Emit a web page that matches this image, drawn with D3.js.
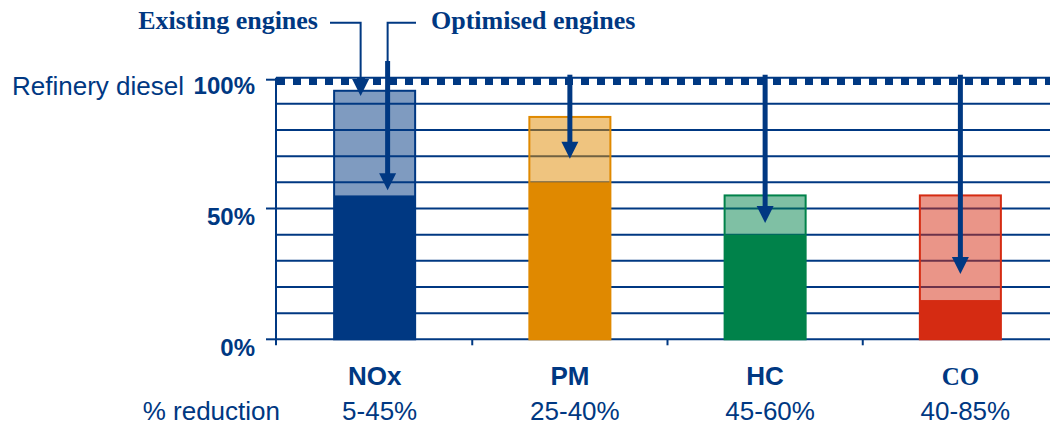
<!DOCTYPE html>
<html>
<head>
<meta charset="utf-8">
<script src="https://cdn.jsdelivr.net/npm/d3@7"></script>
<style>
  body { margin: 0; background: #fff; }
  svg { display: block; }
</style>
</head>
<body>
<svg id="chart" width="1050" height="425"></svg>
<script>
// Emissions relative to refinery diesel (=100%)
const categories = ["NOx", "PM", "HC", "CO"];
const existingEngines = [95, 85, 55, 55];   // level with existing engines
const optimisedEngines = [55, 60, 40, 15];  // level with optimised engines
const reductionLabels = ["5-45%", "25-40%", "45-60%", "40-85%"];
const arrowTips = [57, 69, 44.5, 25];       // where each downward arrow points
const existingArrowTip = 93;                // arrow from the "Existing engines" callout
const yTickValues = [0, 50, 100];
const gridValues = [10, 20, 30, 40, 50, 60, 70, 80, 90];
const colours = ["#003882", "#e08900", "#00824a", "#d52b12"];

const NAVY = "#003882";
const SANS = "'Liberation Sans', Arial, sans-serif";
const SERIF = "'Liberation Serif', 'Times New Roman', serif";

const svg = d3.select("#chart");

const x = d3.scaleBand().domain(categories).range([277, 1058]).padding(0);
const y = d3.scaleLinear().domain([0, 100]).range([339.3, 77.7]);
const barW = x.bandwidth() * 0.415;
const cx = d => x(d) + x.bandwidth() / 2;

// horizontal grid
svg.append("g").selectAll("line").data(gridValues.concat([0, 100])).join("line")
  .attr("x1", x.range()[0] - 1).attr("x2", 1050)
  .attr("y1", d => y(d)).attr("y2", d => y(d))
  .attr("stroke", NAVY).attr("stroke-width", 2);

// the 100% reference line: a row of squares hanging under the line
svg.append("line")
  .attr("x1", x.range()[0]).attr("x2", 1050)
  .attr("y1", y(100) + 3.8).attr("y2", y(100) + 3.8)
  .attr("stroke", NAVY).attr("stroke-width", 7)
  .attr("stroke-dasharray", "8,8");

// bars: existing engines (translucent) and optimised engines (solid)
const bars = svg.append("g");
categories.forEach((c, i) => {
  bars.append("rect")
    .attr("x", cx(c) - barW / 2).attr("width", barW)
    .attr("y", y(existingEngines[i])).attr("height", y(0) - y(existingEngines[i]))
    .attr("fill", colours[i]).attr("fill-opacity", 0.5)
    .attr("stroke", colours[i]).attr("stroke-width", 2);
  bars.append("rect")
    .attr("x", cx(c) - barW / 2).attr("width", barW)
    .attr("y", y(optimisedEngines[i])).attr("height", y(0) - y(optimisedEngines[i]))
    .attr("fill", colours[i]);
});

// axes
const axes = svg.append("g").attr("stroke", NAVY).attr("stroke-width", 2);
axes.append("line")
  .attr("x1", x.range()[0] - 1).attr("x2", x.range()[0] - 1)
  .attr("y1", y(100)).attr("y2", y(0) + 6);
axes.selectAll(".ytick").data(yTickValues).join("line")
  .attr("x1", x.range()[0] - 11).attr("x2", x.range()[0] - 1)
  .attr("y1", d => y(d) + (d === 100 ? 2 : 0)).attr("y2", d => y(d) + (d === 100 ? 2 : 0));
axes.selectAll(".xtick").data(d3.range(1, categories.length)).join("line")
  .attr("x1", i => x.range()[0] + i * x.step()).attr("x2", i => x.range()[0] + i * x.step())
  .attr("y1", y(0)).attr("y2", y(0) + 6);

// y labels
svg.append("g").selectAll("text").data(yTickValues).join("text")
  .attr("x", 255).attr("y", d => y(d) + 16.5)
  .attr("text-anchor", "end")
  .attr("font-family", SANS).attr("font-size", 24).attr("font-weight", "bold")
  .attr("fill", NAVY)
  .text(d => d + "%");

svg.append("text")
  .attr("x", 12).attr("y", y(100) + 17)
  .attr("font-family", SANS).attr("font-size", 26)
  .attr("fill", NAVY)
  .text("Refinery diesel");

// category labels and reduction ranges
svg.append("g").selectAll("text").data(categories).join("text")
  .attr("x", d => cx(d)).attr("y", 385)
  .attr("text-anchor", "middle")
  .attr("font-family", d => d === "CO" ? SERIF : SANS)
  .attr("font-size", d => d === "CO" ? 25 : 26)
  .attr("font-weight", "bold")
  .attr("fill", NAVY)
  .text(d => d);

svg.append("text")
  .attr("x", 280).attr("y", 420)
  .attr("text-anchor", "end")
  .attr("font-family", SANS).attr("font-size", 26)
  .attr("fill", NAVY)
  .text("% reduction");

svg.append("g").selectAll("text").data(reductionLabels).join("text")
  .attr("x", (d, i) => cx(categories[i]) + 5).attr("y", 420)
  .attr("text-anchor", "middle")
  .attr("font-family", SANS).attr("font-size", 26)
  .attr("fill", NAVY)
  .text(d => d);

// arrows
const HEAD = 17;
const arrows = svg.append("g");
function head(xc, tipY) {
  arrows.append("path")
    .attr("d", `M${xc - HEAD / 2},${tipY - HEAD}L${xc + HEAD / 2},${tipY - HEAD}L${xc},${tipY}Z`)
    .attr("fill", NAVY);
}
function shaft(xc, y1, y2, w) {
  arrows.append("line")
    .attr("x1", xc).attr("x2", xc).attr("y1", y1).attr("y2", y2)
    .attr("stroke", NAVY).attr("stroke-width", w);
}

const calloutY = 22.7;
const existingX = cx(categories[0]) - 14;
const optimisedX = cx(categories[0]) + 13;

// "Existing engines" callout
svg.append("text")
  .attr("x", 318).attr("y", 28.5)
  .attr("text-anchor", "end")
  .attr("font-family", SERIF).attr("font-size", 26).attr("font-weight", "bold")
  .attr("fill", NAVY)
  .text("Existing engines");
arrows.append("path")
  .attr("d", `M330,${calloutY}H${existingX}V${y(existingArrowTip) - HEAD + 1}`)
  .attr("fill", "none").attr("stroke", NAVY).attr("stroke-width", 2);
head(existingX, y(existingArrowTip));

// "Optimised engines" callout
svg.append("text")
  .attr("x", 431).attr("y", 28.5)
  .attr("font-family", SERIF).attr("font-size", 26).attr("font-weight", "bold")
  .attr("fill", NAVY)
  .text("Optimised engines");
arrows.append("path")
  .attr("d", `M416,${calloutY}H${optimisedX}V62`)
  .attr("fill", "none").attr("stroke", NAVY).attr("stroke-width", 2);

categories.forEach((c, i) => {
  const xc = i === 0 ? optimisedX : cx(c);
  const top = i === 0 ? 61 : y(100) - 3;
  shaft(xc, top, y(arrowTips[i]) - HEAD + 1, 5);
  head(xc, y(arrowTips[i]));
});
</script>
</body>
</html>
